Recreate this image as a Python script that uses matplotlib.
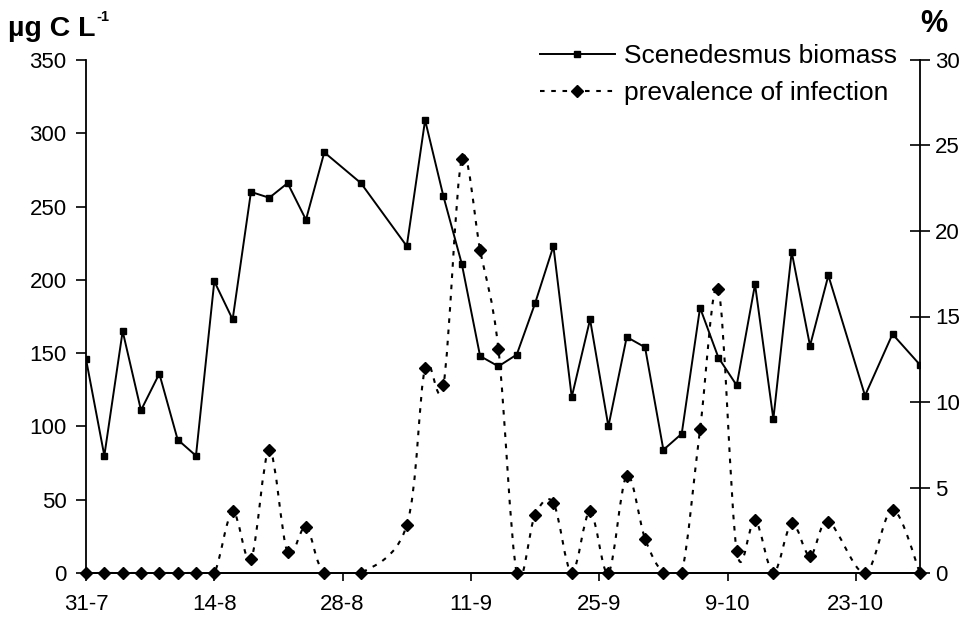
import matplotlib
matplotlib.use("Agg")
import matplotlib.pyplot as plt
from matplotlib.path import Path
from matplotlib.patches import PathPatch
from matplotlib.lines import Line2D
import numpy as np

plt.rcParams['font.family'] = ['Liberation Sans', 'DejaVu Sans']

# days since 31 July
bio_days = [0, 2, 4, 6, 8, 10, 12, 14, 16, 18, 20, 22, 24, 26, 30, 35, 37, 39, 41, 43,
            45, 47, 49, 51, 53, 55, 57, 59, 61, 63, 65, 67, 69, 71, 73, 75, 77, 79, 81,
            85, 88, 91]
biomass = [146, 80, 165, 111, 136, 91, 80, 199, 173, 260, 256, 266, 241, 287, 266, 223,
           309, 257, 211, 148, 141, 149, 184, 223, 120, 173, 100, 161, 154, 84, 95, 181,
           147, 128, 197, 105, 219, 155, 203, 121, 163, 142]
prevalence = [0, 0, 0, 0, 0, 0, 0, 0, 3.6, 0.8, 7.2, 1.2, 2.7, 0, 0, 2.8, 12.0, 11.0,
              24.2, 18.9, 13.1, 0, 3.4, 4.1, 0, 3.6, 0, 5.7, 2.0, 0, 0, 8.4, 16.6, 1.3,
              3.1, 0, 2.9, 1.0, 3.0, 0, 3.7, 0]
tick_days = [0, 14, 28, 42, 56, 70, 84]
tick_labels = ['31-7', '14-8', '28-8', '11-9', '25-9', '9-10', '23-10']

fig = plt.figure(figsize=(9.72, 6.19), dpi=100)
ax = fig.add_axes([86/972, 1-573/619, (920-86)/972, (573-60)/619])
ax2 = ax.twinx()

# biomass
ax.plot(bio_days, biomass, color='black', lw=1.4, marker='s', ms=4.8,
        markerfacecolor='black', markeredgecolor='black', zorder=3)
ax.set_xlim(0, 91)
ax.set_ylim(0, 350)
ax.set_yticks(range(0, 351, 50))
ax.set_xticks(tick_days)
ax.set_xticklabels(tick_labels)

# prevalence: smoothed dotted curve (Bezier through the data points)
P = np.column_stack([bio_days, prevalence]).astype(float)
n = len(P)
verts = [P[0]]
codes = [Path.MOVETO]
for i in range(n - 1):
    p_prev = P[i - 1] if i > 0 else P[i]
    p_next2 = P[i + 2] if i + 2 < n else P[i + 1]
    c1 = P[i] + (P[i + 1] - p_prev) / 6.0
    c2 = P[i + 1] - (p_next2 - P[i]) / 6.0
    verts += [c1, c2, P[i + 1]]
    codes += [Path.CURVE4] * 3
patch = PathPatch(Path(verts, codes), fill=False, edgecolor='black', lw=1.5,
                  linestyle=(0, (2.2, 3.2)), transform=ax2.transData, zorder=2,
                  clip_on=True)
ax2.add_patch(patch)
ax2.plot(bio_days, prevalence, ls='none', marker='D', ms=6.2, color='black',
         zorder=4, clip_on=False)
ax2.set_ylim(0, 30)
ax2.set_yticks(range(0, 31, 5))

for a in (ax, ax2):
    a.spines['top'].set_visible(False)
    a.spines['left'].set_linewidth(1.3)
    a.spines['right'].set_linewidth(1.3)
    a.spines['bottom'].set_linewidth(1.3)
ax2.spines['left'].set_visible(False)
ax.spines['right'].set_visible(False)

ax.tick_params(axis='y', direction='out', length=7, width=1.2, labelsize=16, pad=7)
ax.tick_params(axis='x', direction='out', length=6, width=1.2, labelsize=16, pad=9)
ax2.tick_params(axis='y', direction='inout', length=14, width=1.2, labelsize=16, pad=4)

ylab = fig.text(8/972, 1-29/619, 'µg C L', fontsize=20.5, fontweight='bold',
                va='center', ha='left')
fig.canvas.draw()
bb = ylab.get_window_extent()
fig.text((bb.x1 + 1)/972, 1-17/619, '-1', fontsize=10.5, fontweight='bold',
         va='center', ha='left')
fig.text(920/972, 1-24/619, '%', fontsize=22, fontweight='bold', va='center', ha='left')

h1 = Line2D([], [], color='black', lw=1.4, marker='s', ms=4.2)
h2 = Line2D([], [], color='black', lw=1.5, ls=(0, (2.2, 3.2)), marker='D', ms=6.2)
fig.legend([h1, h2], ['Scenedesmus biomass', 'prevalence of infection'],
           loc='upper right', bbox_to_anchor=(897/972, 1-44/619), frameon=False,
           fontsize=19, handlelength=2.85, handletextpad=0.35, labelspacing=0.5,
           borderpad=0, borderaxespad=0)

fig.savefig('out.png', dpi=100)
